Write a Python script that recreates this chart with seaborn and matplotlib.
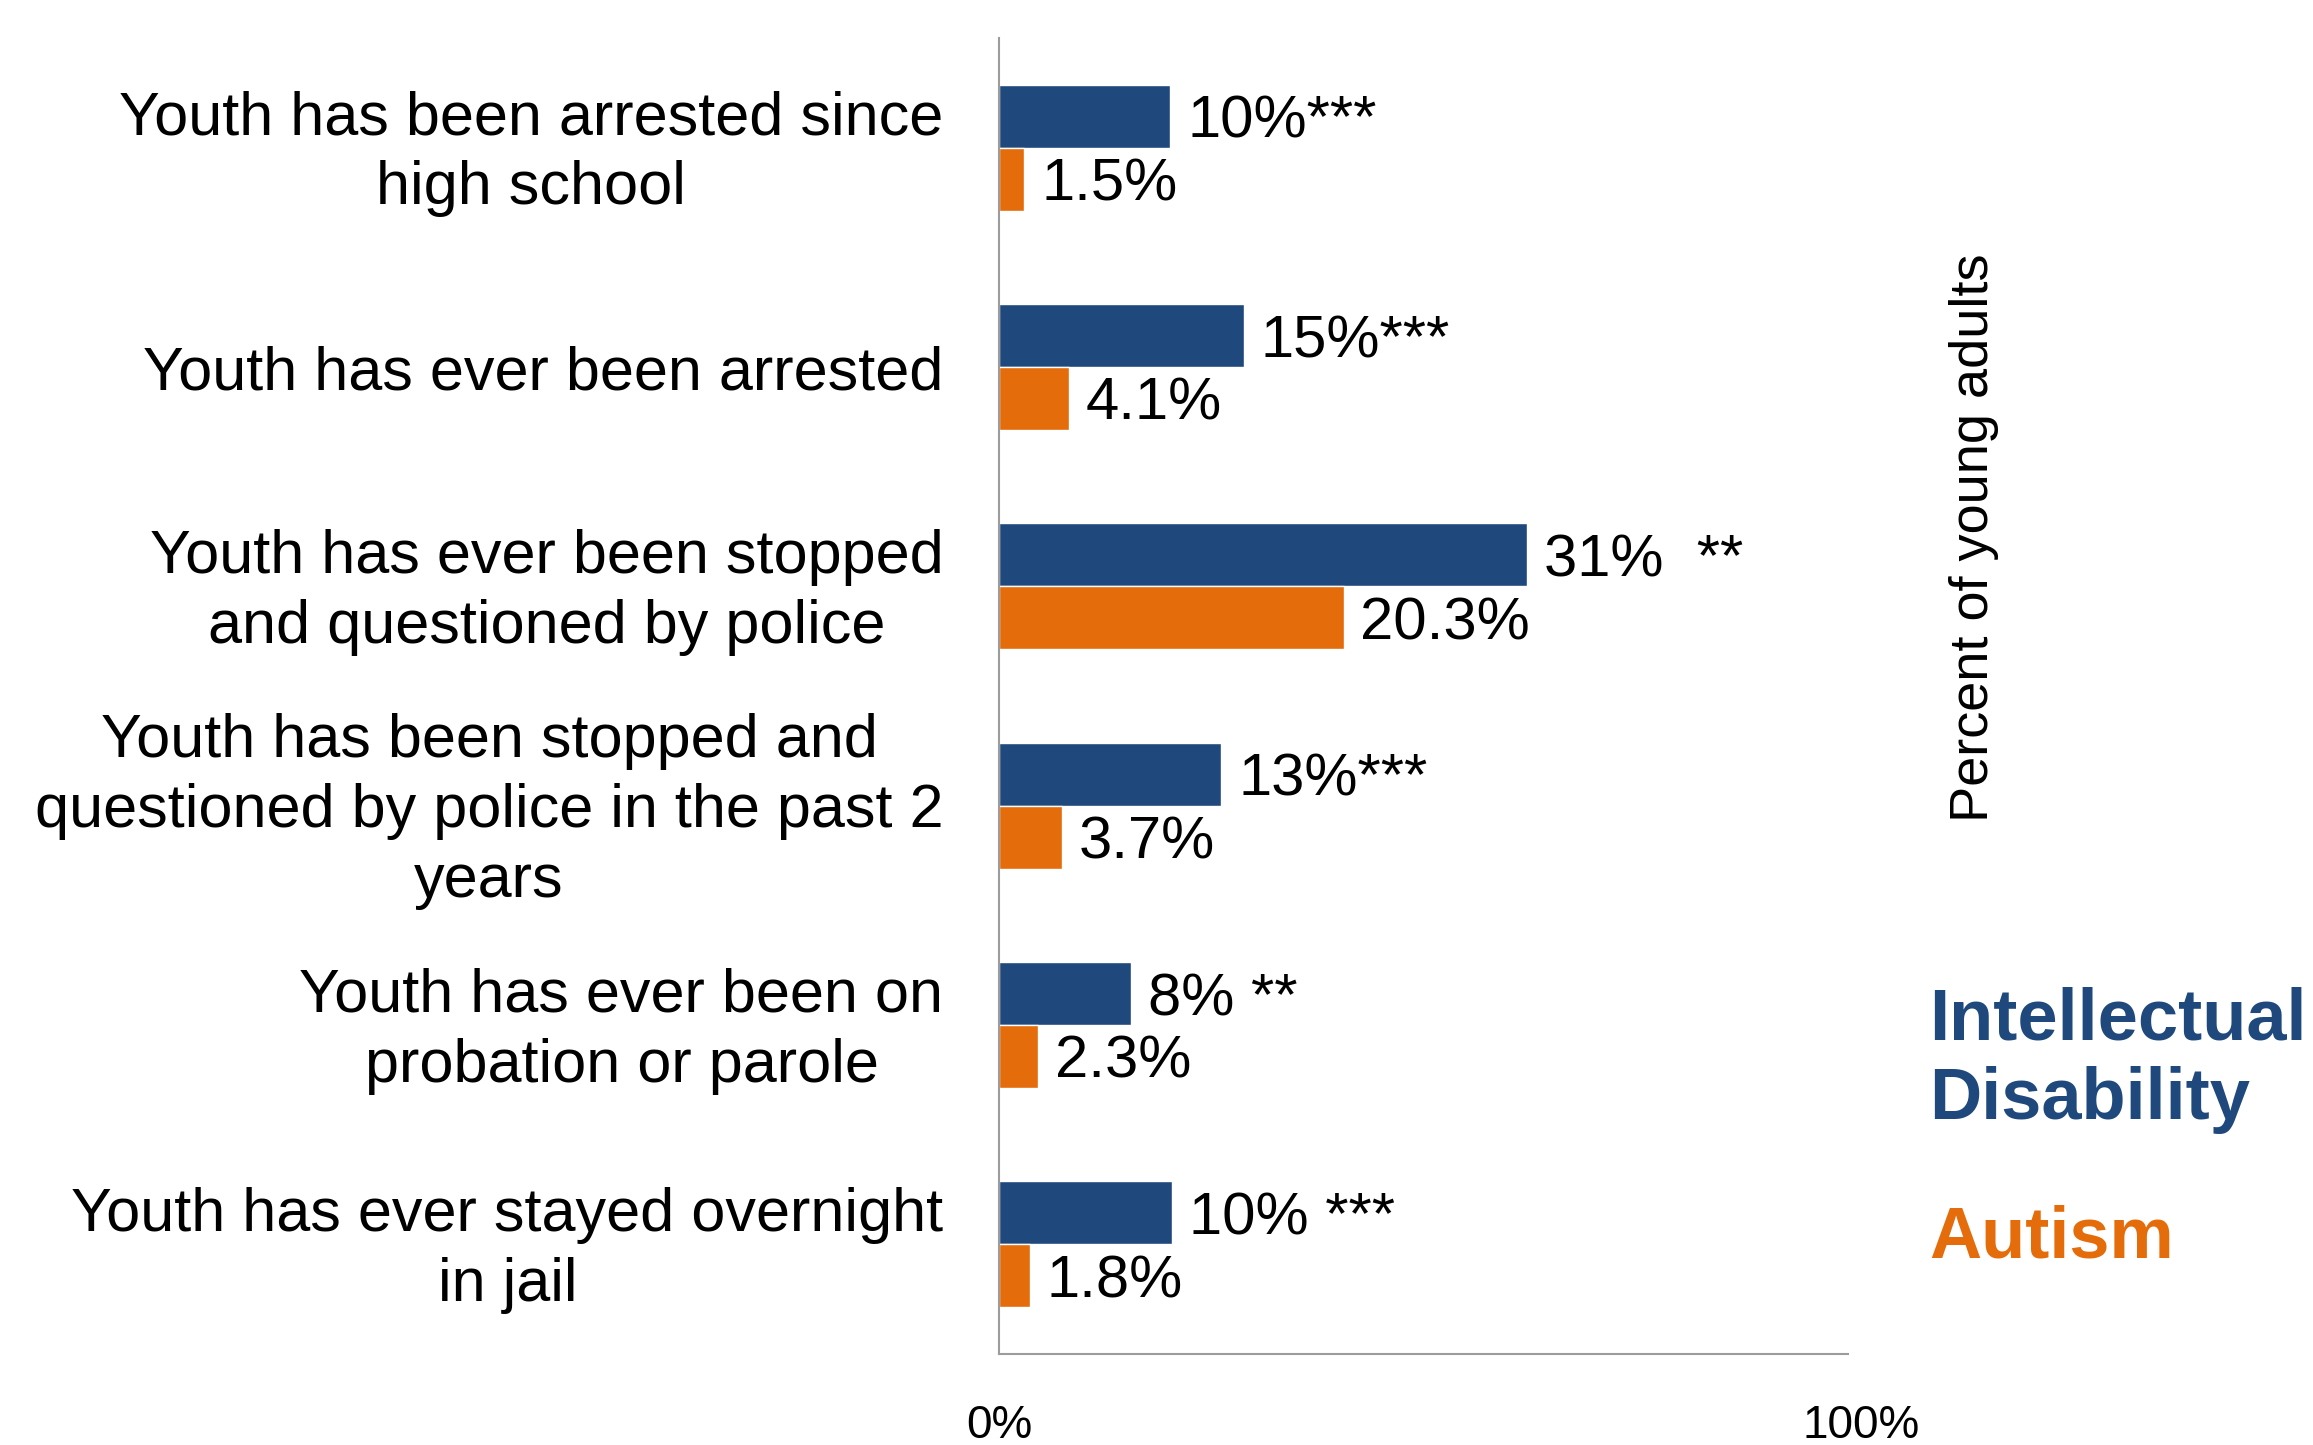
import numpy as np
import pandas as pd
import matplotlib
matplotlib.use("Agg")
import matplotlib.pyplot as plt
import matplotlib.transforms as mtransforms
import seaborn as sns

# ---- data ----
categories = [
    "Youth has been arrested since\nhigh school",
    "Youth has ever been arrested",
    "Youth has ever been stopped\nand questioned by police",
    "Youth has been stopped and\nquestioned by police in the past 2\nyears",
    "Youth has ever been on\nprobation or parole",
    "Youth has ever stayed overnight\nin jail",
]
groups = ["Intellectual Disability", "Autism"]
id_values = [10.1, 14.4, 31.1, 13.1, 7.8, 10.2]
autism_values = [1.5, 4.1, 20.3, 3.7, 2.3, 1.8]
id_labels = ["10%***", "15%***", "31%  **", "13%***", "8% **", "10% ***"]
autism_labels = ["1.5%", "4.1%", "20.3%", "3.7%", "2.3%", "1.8%"]
x_tick_values = [0, 50]
x_tick_labels = ["0%", "100%"]
axis_title = "Percent of young adults"

BLUE = "#1F497D"
ORANGE = "#E46C0A"
GRAY = "#9C9C9C"

df = pd.DataFrame({
    "category": categories * 2,
    "group": [groups[0]] * len(categories) + [groups[1]] * len(categories),
    "value": id_values + autism_values,
})

sns.set_style("white")
plt.rcParams["font.family"] = ["Liberation Sans", "DejaVu Sans"]

W, H = 2313, 1445
fig = plt.figure(figsize=(W / 100, H / 100), dpi=100)
ax = fig.add_axes([999 / W, 1 - 1354 / H, (1848 - 999) / W, (1354 - 38) / H])

sns.barplot(data=df, y="category", x="value", hue="group", order=categories,
            hue_order=groups, palette=[BLUE, ORANGE], width=0.573,
            orient="h", legend=False, ax=ax, saturation=1, errorbar=None)

for cont, labs in zip(ax.containers, [id_labels, autism_labels]):
    texts = ax.bar_label(cont, labels=labs, padding=12, fontsize=43, color="black")
    for t in texts:
        t.set_va("center_baseline")

ax.set_xlim(0, 50)
ax.set_ylim(len(categories) - 0.5, -0.5)
ax.set_xlabel("")
ax.set_ylabel("")
ax.set_xticks(x_tick_values)
ax.set_xticklabels(x_tick_labels, fontsize=33, color="black")
ax.tick_params(axis="x", length=14, width=1.5, color=GRAY, direction="out", pad=22)
ax.xaxis.get_major_ticks()[1].tick1line.set_visible(False)
lab100 = ax.get_xticklabels()[1]
lab100.set_transform(lab100.get_transform() +
                     mtransforms.ScaledTranslation(13 / 100, 0, fig.dpi_scale_trans))

# category labels (drawn as annotations at each category position)
ax.set_yticks(range(len(categories)))
ax.set_yticklabels([])
ax.tick_params(axis="y", which="major", length=0)
for i, cat in enumerate(categories):
    multi = "\n" in cat
    ax.annotate(cat, xy=(0, i), xycoords=("axes fraction", "data"),
                xytext=(-40, -4.3 if multi else 0), textcoords="offset points",
                ha="right", va="center" if multi else "center_baseline",
                multialignment="center", linespacing=1.3,
                fontsize=44, color="black", annotation_clip=False)

ax.set_yticks(np.arange(-0.5, len(categories), 1), minor=True)
ax.tick_params(axis="y", which="minor", length=13, width=1.5, color=GRAY, direction="out")

for s in ["top", "right"]:
    ax.spines[s].set_visible(False)
for s in ["left", "bottom"]:
    ax.spines[s].set_color(GRAY)
    ax.spines[s].set_linewidth(1.5)

fig.text(1974 / W, 1 - 538 / H, axis_title, rotation=90, ha="center", va="center",
         fontsize=39, color="black")
fig.text(1929 / W, 1 - 1040 / H, "Intellectual", ha="left", va="baseline",
         fontsize=52, fontweight="bold", color=BLUE)
fig.text(1929 / W, 1 - 1119 / H, "Disability", ha="left", va="baseline",
         fontsize=52, fontweight="bold", color=BLUE)
fig.text(1929 / W, 1 - 1258 / H, "Autism", ha="left", va="baseline",
         fontsize=52, fontweight="bold", color=ORANGE)

fig.savefig("out.png", dpi=100)
